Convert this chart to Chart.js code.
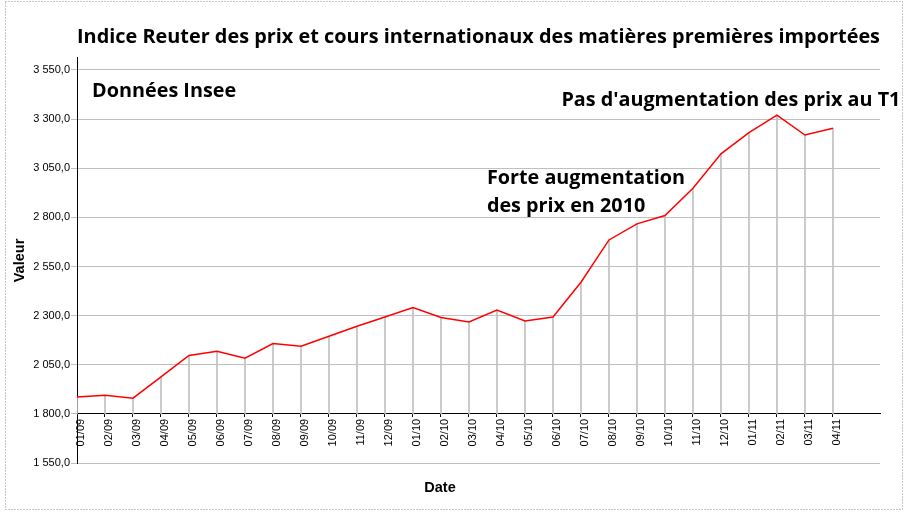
<!DOCTYPE html>
<html>
<head>
<meta charset="utf-8">
<script src="https://cdn.jsdelivr.net/npm/chart.js@4.4.1/dist/chart.umd.min.js"></script>
<style>
  html, body { margin: 0; padding: 0; background: #ffffff; }
  #box { width: 909px; height: 517px; }
</style>
</head>
<body>
<div id="box"><canvas id="indice"></canvas></div>
<script>
// mois (axe des x)
const months = ['01/09', '02/09', '03/09', '04/09', '05/09', '06/09', '07/09', '08/09', '09/09', '10/09', '11/09', '12/09',
                '01/10', '02/10', '03/10', '04/10', '05/10', '06/10', '07/10', '08/10', '09/10', '10/10', '11/10', '12/10',
                '01/11', '02/11', '03/11', '04/11'];

// indice Reuter
const values = [1886, 1895, 1880, 1988, 2097, 2119, 2083, 2158, 2144, 2195, 2246, 2293,
                2341, 2290, 2268, 2328, 2273, 2293, 2470, 2685, 2767, 2809, 2948, 3123,
                3231, 3320, 3219, 3253];

const yTicks = [1550, 1800, 2050, 2300, 2550, 2800, 3050, 3300, 3550];

// commentaires posés sur le graphique (en coordonnées des données)
const notes = [
    { x: 0.54, y: 3413, lines: ['Données Insee'] },
    { x: 14.64, y: 2970, lines: ['Forte augmentation', 'des prix en 2010'] },
    { x: 17.3, y: 3367, lines: ["Pas d'augmentation des prix au T1"] }
];

function frNumber(v) {
    var s = v.toFixed(1).split('.');
    var ent = s[0].replace(/\B(?=(\d{3})+(?!\d))/g, ' ');
    return ent + ',' + s[1];
}

const frame = {
    id: 'frame',
    beforeDraw: function (chart) {
        const c = chart.ctx;
        c.save();
        c.fillStyle = '#ffffff';
        c.fillRect(0, 0, chart.width, chart.height);
        c.strokeStyle = '#8c8c8c';
        c.lineWidth = 1;
        c.setLineDash([1, 2]);
        c.strokeRect(5.5, 1.5, chart.width - 12, chart.height - 9);
        c.restore();
    }
};

const notesPlugin = {
    id: 'notes',
    afterDatasetsDraw: function (chart) {
        const c = chart.ctx;
        const xs = chart.scales.x, ys = chart.scales.y;
        c.save();
        c.font = 'bold 19.8px "Open Sans"';
        c.fillStyle = '#000000';
        c.textBaseline = 'alphabetic';
        notes.forEach(function (n) {
            const px = xs.getPixelForValue(n.x);
            const py = ys.getPixelForValue(n.y);
            n.lines.forEach(function (l, i) {
                c.fillText(l, px, py + i * 28);
            });
        });
        c.restore();
    }
};

const ctx = document.getElementById('indice').getContext('2d');

new Chart(ctx, {
    type: 'line',
    data: {
        datasets: [{
            type: 'line',
            data: values.map(function (v, i) { return { x: i, y: v }; }),
            borderColor: '#ff0000',
            borderWidth: 1.5,
            pointRadius: 0,
            tension: 0,
            fill: false,
            order: 0
        },
        {
            type: 'bar',
            data: values.map(function (v, i) { return { x: i, y: [1800, v] }; }),
            backgroundColor: '#c0c0c0',
            barThickness: 1,
            order: 1
        }]
    },
    options: {
        responsive: true,
        maintainAspectRatio: false,
        animation: false,
        layout: { padding: { left: 0, right: 29, top: 0, bottom: 0 } },
        plugins: {
            legend: { display: false },
            tooltip: { enabled: false },
            title: {
                display: true,
                fullSize: false,
                text: 'Indice Reuter des prix et cours internationaux des matières premières importées',
                color: '#000000',
                font: { family: 'Open Sans', size: 19.9, weight: 'bold' },
                padding: { top: 25, bottom: 9.1 }
            },
            subtitle: {
                display: true,
                position: 'bottom',
                text: 'Date',
                color: '#000000',
                font: { family: 'Liberation Sans', size: 14.5, weight: 'bold' },
                padding: { top: 16, bottom: 20.6 }
            }
        },
        scales: {
            x: {
                type: 'linear',
                position: { y: 1800 },
                offset: false,
                min: 0,
                max: 28.68,
                grid: {
                    offset: false,
                    drawOnChartArea: false,
                    drawTicks: true,
                    tickLength: 3,
                    color: '#000000'
                },
                border: { color: '#000000', width: 1 },
                afterBuildTicks: function (scale) {
                    scale.ticks = scale.ticks.filter(function (t) {
                        return t.value <= months.length - 1 && Number.isInteger(t.value);
                    });
                },
                ticks: {
                    stepSize: 1,
                    autoSkip: false,
                    minRotation: 90,
                    maxRotation: 90,
                    padding: 2,
                    labelOffset: 4,
                    color: '#000000',
                    font: { family: 'Liberation Sans', size: 11 },
                    callback: function (v) { return months[v]; }
                }
            },
            y: {
                min: 1550,
                max: 3611,
                afterFit: function (scale) { scale.width = 77; },
                afterBuildTicks: function (scale) {
                    scale.ticks = yTicks.map(function (v) { return { value: v }; });
                },
                grid: { color: '#c0c0c0', tickLength: 6 },
                border: { color: '#000000', width: 1 },
                title: {
                    display: true,
                    text: 'Valeur',
                    color: '#000000',
                    font: { family: 'Liberation Sans', size: 14.5, weight: 'bold' },
                    padding: { top: 11, bottom: 0 }
                },
                ticks: {
                    padding: 1,
                    color: '#000000',
                    font: { family: 'Liberation Sans', size: 11 },
                    callback: function (v) { return frNumber(v); }
                }
            }
        }
    },
    plugins: [frame, notesPlugin]
});
</script>
</body>
</html>
